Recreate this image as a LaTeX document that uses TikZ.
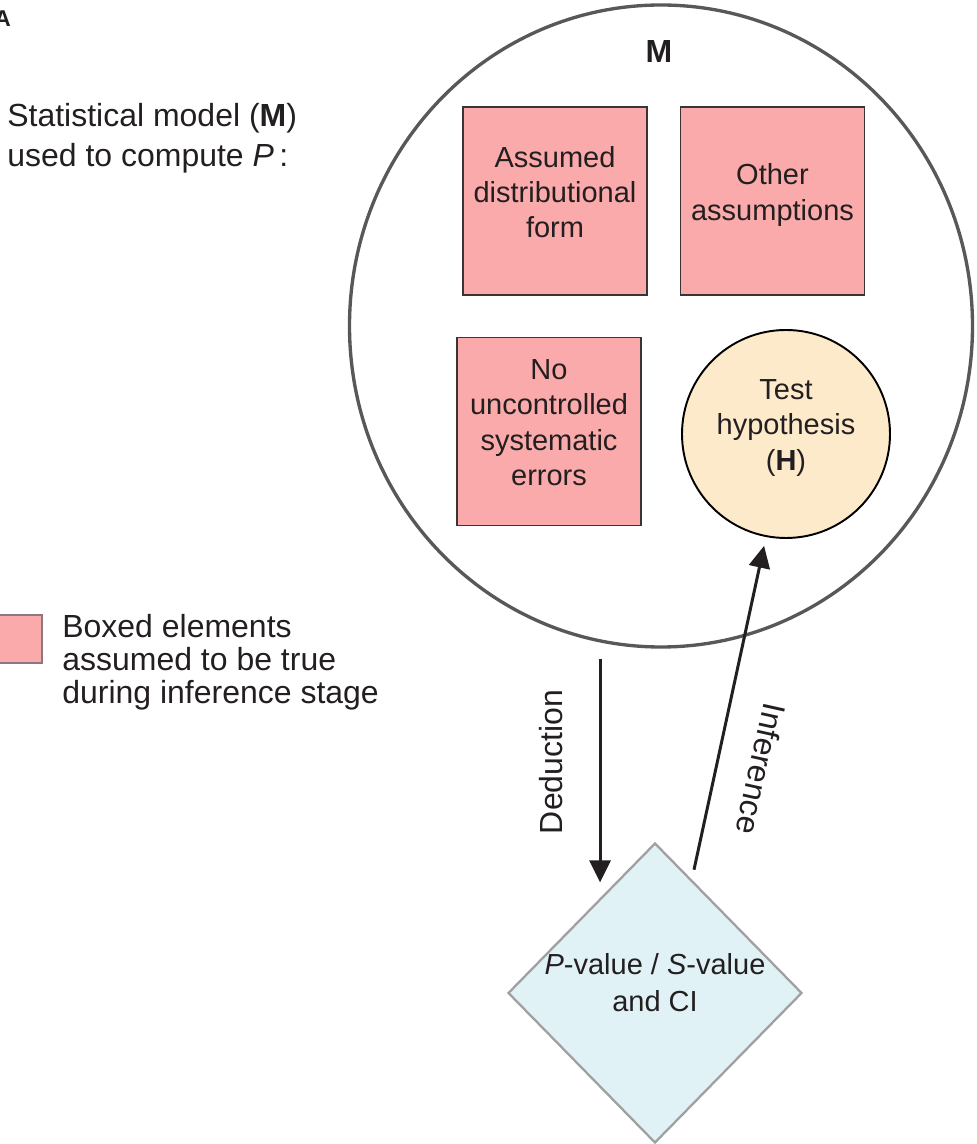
\documentclass[tikz,border=0pt]{standalone}
\usepackage{fontspec}
\setmainfont{Liberation Sans}
\usetikzlibrary{shapes.geometric,arrows.meta}
\definecolor{ink}{RGB}{35,31,32}
\definecolor{boxpink}{RGB}{250,170,170}
\definecolor{boxedge}{RGB}{58,52,52}
\definecolor{legendedge}{RGB}{140,120,128}
\definecolor{modelgray}{RGB}{88,88,88}
\definecolor{hypfill}{RGB}{253,234,203}
\definecolor{pvalfill}{RGB}{225,242,246}
\definecolor{pvaledge}{RGB}{160,160,160}
\tikzset{
  assume/.style={draw=boxedge,line width=1.1pt,fill=boxpink,minimum width=3.68cm,minimum height=3.76cm,
    inner sep=0pt,align=center,text depth=0.36cm,font=\fontsize{16.5}{20.2}\selectfont},
  hypo/.style={circle,draw=black,line width=1.1pt,fill=hypfill,minimum size=4.16cm,inner sep=0pt,
    align=center,text depth=0.36cm,font=\fontsize{16.5}{20.2}\selectfont},
  outcome/.style={diamond,draw=pvaledge,line width=1.3pt,fill=pvalfill,minimum width=5.88cm,minimum height=6cm,
    inner sep=0pt,align=center,text height=0.74cm,font=\fontsize{16.5}{21}\selectfont},
  arrow/.style={draw=ink,line width=1.7pt,-{Triangle[length=0.44cm,width=0.42cm]}},
  plain/.style={font=\fontsize{18.2}{18.8}\selectfont}
}
\begin{document}
\begin{tikzpicture}[every node/.append style={text=ink}]
\useasboundingbox (0,0) rectangle (19.54,22.88);
% model M
\node[ellipse,draw=modelgray,line width=1.9pt,minimum width=12.46cm,minimum height=12.84cm] (model) at (13.22,16.36) {};
\node[plain,font=\bfseries\fontsize{18.2}{18.8}\selectfont,anchor=base] (mlabel) at (13.18,21.62) {M};
\node[assume] (distform) at (11.10,18.86) {Assumed\\distributional\\form};
\node[assume] (otherassm) at (15.45,18.86) {Other\\assumptions};
\node[assume] (nosyserr) at (10.98,14.25) {No\\uncontrolled\\systematic\\errors};
\node[hypo] (hyp) at (15.72,14.20) {Test\\hypothesis\\(\textbf{H})};
% outcome
\node[outcome] (pval) at (13.10,3.02) {\textit{P}-value / \textit{S}-value\\and CI};
% arrows
\draw[arrow,shorten <=0.36cm,shorten >=0.31cm] (model.258.5 -| pval.120.2) -- (pval.120.2);
\draw[arrow,shorten <=0.2cm,shorten >=0.18cm] (pval.72.8) -- (hyp.259.3);
\node[plain,rotate=90] (dedlabel) at (11.03,7.64) {Deduction};
\node[plain,rotate=-102.5] (inflabel) at (15.22,7.50) {Inference};
% left texts
\node[font=\bfseries\fontsize{13}{15}\selectfont,anchor=base west,inner sep=0pt] (panel) at (-0.12,22.34) {A};
\node[font=\fontsize{18.2}{22.8}\selectfont,anchor=west,align=left,inner sep=0pt] (modeltext) at (0.14,20.12)
  {Statistical model (\textbf{M})\\used to compute \textit{P}\,:};
\node[draw=legendedge,line width=0.6pt,fill=boxpink,minimum size=0.96cm,inner sep=0pt] (legendbox) at (0.36,10.10) {};
\node[plain,anchor=west,align=left,inner sep=0pt] (legendtext) at (1.24,9.64)
  {Boxed elements\\assumed to be true\\during inference stage};
\end{tikzpicture}
\end{document}
